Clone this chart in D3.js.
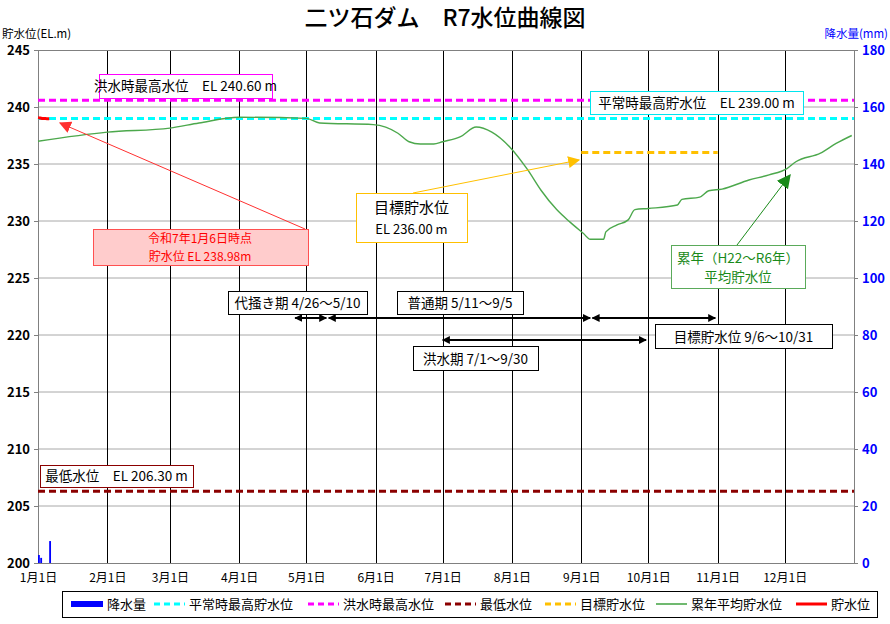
<!DOCTYPE html>
<html><head><meta charset="utf-8">
<script src="https://cdn.jsdelivr.net/npm/d3@7"></script>
<style>
body{margin:0;background:#fff;}
text{font-family:"Noto Sans CJK JP","Noto Sans",sans-serif;}
</style></head>
<body><svg id="c" width="890" height="624"></svg>
<script>
// ---- data ----
const title = "二ツ石ダム　R7水位曲線図";
const avgDates = ["2025-01-01","2025-02-01","2025-03-01","2025-03-14","2025-04-01","2025-05-01","2025-05-07","2025-05-31","2025-06-11","2025-06-16","2025-06-21","2025-06-27","2025-07-01","2025-07-09","2025-07-16","2025-07-23","2025-07-31","2025-08-08","2025-08-14","2025-08-21","2025-08-27","2025-09-02","2025-09-05","2025-09-11","2025-09-12","2025-09-17","2025-09-22","2025-09-25","2025-10-01","2025-10-14","2025-10-16","2025-10-24","2025-10-28","2025-11-03","2025-11-15","2025-11-24","2025-12-02","2025-12-06","2025-12-17","2025-12-24","2025-12-31"];
const avgLevels = [237.0,237.8,238.15,238.6,239.1,239.0,238.6,238.45,237.7,236.95,236.75,236.75,236.95,237.4,238.25,237.8,236.5,234.5,232.7,231.0,229.9,228.9,228.4,228.4,229.05,229.65,230.1,231.0,231.1,231.4,231.9,232.1,232.65,232.8,233.6,234.05,234.6,235.2,235.95,236.8,237.5];
const curDates = ["2025-01-01","2025-01-02","2025-01-03","2025-01-04","2025-01-05","2025-01-06"];
const curLevels = [239.05,239.03,239.0,238.99,238.98,238.98];
const rainDates = ["2025-01-01","2025-01-02","2025-01-06"];
const rainValues = [2.8,1.8,7.7];
const floodMax = 240.60, normalMax = 239.00, minLevel = 206.30, targetLevel = 236.00;
const targetStart = "2025-09-01", targetEnd = "2025-11-01";
const periodLabels = ["代掻き期 4/26～5/10","普通期 5/11～9/5","目標貯水位 9/6～10/31","洪水期 7/1～9/30"];
const periodStarts = ["2025-04-26","2025-05-11","2025-09-06","2025-07-01"];
const periodEnds = ["2025-05-10","2025-09-05","2025-10-31","2025-09-30"];
const leftTicks = [200,205,210,215,220,225,230,235,240,245];
const rightTicks = [0,20,40,60,80,100,120,140,160,180];
const legendLabels = ["降水量","平常時最高貯水位","洪水時最高水位","最低水位","目標貯水位","累年平均貯水位","貯水位"];

// ---- drawing ----
const P = d3.timeParse("%Y-%m-%d");
const svg = d3.select("#c");
const L = 38, R = 854, T = 50, B = 563;
const x = d3.scaleTime().domain([P("2025-01-01"), P("2026-01-01")]).range([L, R]);
const y = d3.scaleLinear().domain([200, 245]).range([B, T]);
const y2 = d3.scaleLinear().domain([0, 180]).range([B, T]);

const defs = svg.append("defs");
function marker(id, color, size) {
  defs.append("marker").attr("id", id).attr("viewBox", "0 0 10 10").attr("refX", 9).attr("refY", 5)
    .attr("markerWidth", size).attr("markerHeight", size).attr("orient", "auto-start-reverse")
    .attr("markerUnits", "userSpaceOnUse")
    .append("path").attr("d", "M0,0 L10,5 L0,10 z").attr("fill", color);
}
marker("aBlack", "#000", 8);
marker("aRed", "#ff3030", 12);
marker("aOrange", "#ffc000", 12);
marker("aGreen", "#1a8a1a", 14);

// title
svg.append("text").attr("x", 445).attr("y", 26).attr("text-anchor", "middle")
  .attr("font-size", 23).attr("font-weight", 500).attr("fill", "#000").text(title);
svg.append("text").attr("x", 2).attr("y", 38).attr("font-size", 11.5).attr("fill", "#000").text("貯水位(EL.m)");
svg.append("text").attr("x", 888).attr("y", 38).attr("text-anchor", "end").attr("font-size", 11.5).attr("fill", "#0000ff").text("降水量(mm)");

// horizontal gridlines
svg.append("g").selectAll("line").data(leftTicks.filter(d => d > 200 && d < 245)).join("line")
  .attr("x1", L).attr("x2", R).attr("y1", d => y(d)).attr("y2", d => y(d))
  .attr("stroke", "#a8a8a8").attr("stroke-width", 1);
// vertical month lines
const months = d3.timeMonth.range(P("2025-02-01"), P("2025-12-02"));
svg.append("g").selectAll("line").data(months).join("line")
  .attr("x1", d => Math.round(x(d)) + 0.5).attr("x2", d => Math.round(x(d)) + 0.5).attr("y1", T).attr("y2", B)
  .attr("stroke", "#000").attr("stroke-width", 1);

// axes
const gl = svg.append("g").attr("transform", `translate(${L},0)`)
  .call(d3.axisLeft(y).tickValues(leftTicks).tickSize(4).tickFormat(d3.format("d")));
gl.selectAll("text").attr("font-family", "'Liberation Sans',Arial,sans-serif").attr("font-size", 13).attr("font-weight", "bold").attr("fill", "#000").attr("x", -8);
gl.select(".domain").attr("stroke", "#808080");
gl.selectAll(".tick line").attr("stroke", "#808080");
const gr = svg.append("g").attr("transform", `translate(${R},0)`)
  .call(d3.axisRight(y2).tickValues(rightTicks).tickSize(4).tickFormat(d3.format("d")));
gr.selectAll("text").attr("font-family", "'Liberation Sans',Arial,sans-serif").attr("font-size", 13).attr("font-weight", "bold").attr("fill", "#0000ff").attr("x", 8);
gr.select(".domain").attr("stroke", "#808080");
gr.selectAll(".tick line").attr("stroke", "#808080");
svg.append("line").attr("x1", L).attr("x2", R).attr("y1", T + 0.5).attr("y2", T + 0.5).attr("stroke", "#808080");
svg.append("line").attr("x1", L).attr("x2", R).attr("y1", B + 0.5).attr("y2", B + 0.5).attr("stroke", "#808080");
const gx = svg.append("g").attr("transform", `translate(0,${B})`)
  .call(d3.axisBottom(x).tickValues(d3.timeMonth.range(P("2025-01-01"), P("2025-12-02"))).tickSize(0).tickFormat(d3.timeFormat("%-m月%-d日")));
gx.select(".domain").remove();
gx.selectAll("text").attr("font-size", 12).attr("fill", "#000").attr("dy", "1.3em");

// rain bars
const dayW = x(P("2025-01-02")) - x(P("2025-01-01"));
svg.append("g").selectAll("rect").data(rainDates.map((d, i) => [P(d), rainValues[i]])).join("rect")
  .attr("x", d => x(d[0])).attr("width", dayW - 0.4).attr("y", d => y2(d[1])).attr("height", d => B - y2(d[1]))
  .attr("fill", "#0000ff");

// reference dashed lines
function hline(v, c, x1, x2) {
  svg.append("line").attr("x1", x1).attr("x2", x2).attr("y1", y(v)).attr("y2", y(v))
    .attr("stroke", c).attr("stroke-width", 3).attr("stroke-dasharray", "7,4");
}
hline(floodMax, "#ff00ff", L, R);
hline(normalMax, "#00ffff", L, R);
hline(minLevel, "#8b0000", L, R);
hline(targetLevel, "#ffc000", x(P(targetStart)), x(P(targetEnd)));

// average line
const line = d3.line().x(d => x(d[0])).y(d => y(d[1])).curve(d3.curveMonotoneX);
svg.append("path").datum(avgDates.map((d, i) => [P(d), avgLevels[i]]))
  .attr("d", line).attr("fill", "none").attr("stroke", "#4ca84c").attr("stroke-width", 1.4);
// current line
svg.append("path").datum(curDates.map((d, i) => [P(d), curLevels[i]]))
  .attr("d", line).attr("fill", "none").attr("stroke", "#ff0000").attr("stroke-width", 3);

// label boxes
function box(x1, y1, x2, y2, stroke, fill) {
  svg.append("rect").attr("x", x1 + 0.5).attr("y", y1 + 0.5).attr("width", x2 - x1).attr("height", y2 - y1)
    .attr("fill", fill).attr("stroke", stroke).attr("stroke-width", 1);
}
function txt(tx, ty, s, size, color, anchor) {
  svg.append("text").attr("x", tx).attr("y", ty).attr("font-size", size).attr("fill", color)
    .attr("text-anchor", anchor || "middle").text(s);
}
box(99, 74, 272, 98, "#ff00ff", "#fff");
txt(185.5, 91, "洪水時最高水位　EL 240.60 m", 13.5, "#000");
box(590, 91, 803, 114, "#00e5ee", "#fff");
txt(696.5, 108, "平常時最高貯水位　EL 239.00 m", 13.5, "#000");
box(40, 465, 193, 487, "#8b0000", "#fff");
txt(116.5, 481, "最低水位　EL 206.30 m", 13.5, "#000");

// current level annotation
svg.append("line").attr("x1", 305).attr("y1", 229).attr("x2", 60).attr("y2", 123)
  .attr("stroke", "#ff3030").attr("stroke-width", 1).attr("marker-end", "url(#aRed)");
box(93, 229, 308, 265, "#ff5050", "#ffcccc");
txt(200, 243, "令和7年1月6日時点", 12, "#ff0000");
txt(200, 261, "貯水位 EL 238.98m", 12, "#ff0000");

// target annotation
svg.append("line").attr("x1", 413).attr("y1", 193).attr("x2", 579).attr("y2", 160)
  .attr("stroke", "#ffc000").attr("stroke-width", 1).attr("marker-end", "url(#aOrange)");
box(356, 193, 467, 242, "#ffc000", "#fff");
txt(411.5, 213, "目標貯水位", 15, "#000");
txt(411.5, 234, "EL 236.00 m", 13, "#000");

// average annotation
svg.append("line").attr("x1", 737).attr("y1", 245).attr("x2", 790).attr("y2", 175)
  .attr("stroke", "#1a8a1a").attr("stroke-width", 1).attr("marker-end", "url(#aGreen)");
box(671, 245, 805, 288, "#5aaa5a", "#fff");
txt(738, 263, "累年（H22～R6年）", 13.5, "#1a8a1a");
txt(738, 282, "平均貯水位", 13.5, "#1a8a1a");

// periods
const pBoxes = [[228, 291, 367, 314], [397, 291, 523, 314], [655, 324, 832, 348], [413, 346, 538, 370]];
const pArrowY = [318, 318, 318, 340];
periodLabels.forEach((lab, i) => {
  svg.append("line").attr("x1", x(P(periodStarts[i]))).attr("x2", x(P(periodEnds[i])))
    .attr("y1", pArrowY[i]).attr("y2", pArrowY[i]).attr("stroke", "#000").attr("stroke-width", 2)
    .attr("marker-start", "url(#aBlack)").attr("marker-end", "url(#aBlack)");
});
periodLabels.forEach((lab, i) => {
  const b = pBoxes[i];
  box(b[0], b[1], b[2], b[3], "#000", "#fff");
  txt((b[0] + b[2]) / 2, b[3] - 6, lab, 13.5, "#000");
});

// legend
box(62, 591, 877, 617, "#000", "#fff");
const ly = 604;
const swatches = [[71, 103], [154, 185], [308, 339], [445, 476], [545, 576], [656, 687], [796, 827]];
const colors = ["#0000ff", "#00ffff", "#ff00ff", "#8b0000", "#ffc000", "#4ca84c", "#ff0000"];
legendLabels.forEach((lab, i) => {
  const s = swatches[i];
  const ln = svg.append("line").attr("x1", s[0]).attr("x2", s[1]).attr("y1", ly).attr("y2", ly).attr("stroke", colors[i]);
  if (i === 0) ln.attr("stroke-width", 6);
  else if (i === 5) ln.attr("stroke-width", 1.6);
  else if (i === 6) ln.attr("stroke-width", 3);
  else ln.attr("stroke-width", 3).attr("stroke-dasharray", "6,4");
  txt(s[1] + 4, ly + 5, lab, 13, "#000", "start");
});
</script></body></html>
